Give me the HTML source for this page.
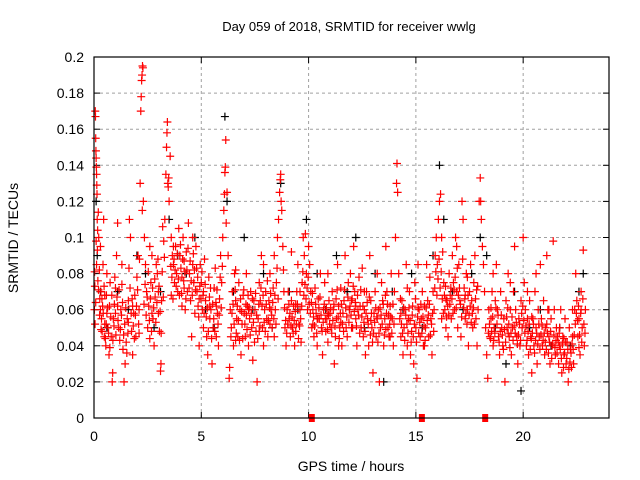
<!DOCTYPE html>
<html><head><meta charset="utf-8"><style>
body{margin:0;background:#fff;}
svg{display:block;font-family:"Liberation Sans",sans-serif;}
</style></head><body>
<svg id="chart" width="640" height="480">
<rect width="640" height="480" fill="#fff"/>
<g id="grid"></g>
<g id="ticks"></g>
<g id="black"></g>
<g id="red"></g>
<rect x="94" y="57" width="515" height="361" fill="none" stroke="#000" stroke-width="1.2"/>
<text x="349" y="31" text-anchor="middle" font-size="13">Day 059 of 2018, SRMTID for receiver wwlg</text>
<text x="351" y="471" text-anchor="middle" font-size="14">GPS time / hours</text>
<text transform="translate(18,238) rotate(-90)" text-anchor="middle" font-size="14">SRMTID / TECUs</text>
</svg>
<script>
const xTicks=[0,5,10,15,20];
const yTicks=[0,0.02,0.04,0.06,0.08,0.1,0.12,0.14,0.16,0.18,0.2];
const yTickLabels=["0","0.02","0.04","0.06","0.08","0.1","0.12","0.14","0.16","0.18","0.2"];
const zeroPoints=[[10.15,0],[15.28,0],[18.23,0]];
const blackPoints=[[0.1,0.12],[0.15,0.09],[0.3,0.07],[0.6,0.05],[1.1,0.07],[1.6,0.06],[2.0,0.09],[2.4,0.08],[2.8,0.05],[3.1,0.07],[3.5,0.11],[3.9,0.09],[4.3,0.08],[4.7,0.1],[5.2,0.06],[5.6,0.05],[6.1,0.167],[6.2,0.12],[6.5,0.07],[7.0,0.1],[7.4,0.06],[7.9,0.08],[8.3,0.05],[8.7,0.13],[9.1,0.07],[9.5,0.06],[9.9,0.11],[10.4,0.08],[10.8,0.06],[11.3,0.09],[11.8,0.07],[12.2,0.1],[12.6,0.05],[13.1,0.08],[13.5,0.02],[13.9,0.07],[14.4,0.06],[14.8,0.08],[15.3,0.05],[15.8,0.09],[16.1,0.14],[16.3,0.11],[16.7,0.07],[17.2,0.06],[17.6,0.08],[18.0,0.1],[18.3,0.09],[18.7,0.05],[19.2,0.03],[19.6,0.07],[19.9,0.015],[20.3,0.05],[20.8,0.06],[21.3,0.04],[21.7,0.05],[22.2,0.04],[22.6,0.07],[22.8,0.08]];
const redPoints=[
[0.02,0.06],[0.04,0.073],[0.05,0.052],[0.06,0.17],[0.07,0.167],[0.08,0.155],[0.09,0.148],[0.1,0.144],[0.11,0.139],[0.12,0.135],[0.13,0.129],[0.14,0.124],[0.1,0.098],[0.12,0.085],[0.15,0.11],[0.17,0.104],[0.18,0.076],[0.2,0.114],[0.22,0.1],[0.25,0.082],[0.27,0.066],[0.3,0.06],[0.32,0.07],[0.35,0.055],[0.38,0.048],[0.4,0.062],[0.42,0.085],[0.45,0.11],[0.48,0.045],[0.5,0.052],[0.55,0.04],[0.58,0.068],[0.6,0.058],[0.65,0.05],[0.7,0.035],[0.72,0.062],[0.75,0.075],[0.8,0.045],[0.85,0.02],[0.87,0.025],[0.9,0.055],[0.95,0.063],[1.0,0.072],[1.05,0.09],[1.1,0.108],[1.15,0.05],[1.2,0.043],[1.25,0.06],[1.3,0.074],[1.35,0.038],[1.4,0.02],[1.45,0.03],[1.5,0.042],[1.55,0.055],[1.6,0.065],[1.65,0.11],[1.7,0.1],[1.75,0.048],[1.8,0.035],[1.85,0.058],[1.9,0.068],[1.95,0.045],[2.0,0.078],[2.05,0.09],[2.1,0.06],[2.15,0.13],[2.18,0.17],[2.2,0.178],[2.22,0.187],[2.24,0.19],[2.26,0.195],[2.28,0.194],[2.25,0.115],[2.3,0.12],[2.35,0.1],[2.4,0.085],[2.45,0.07],[2.5,0.05],[2.55,0.062],[2.6,0.044],[2.65,0.075],[2.7,0.09],[2.75,0.055],[2.8,0.04],[2.85,0.067],[2.9,0.085],[2.95,0.08],[3.0,0.058],[3.05,0.048],[3.1,0.026],[3.12,0.03],[3.15,0.065],[3.2,0.106],[3.25,0.098],[3.3,0.11],[3.35,0.135],[3.38,0.15],[3.4,0.158],[3.42,0.164],[3.44,0.13],[3.46,0.128],[3.48,0.133],[3.5,0.12],[3.55,0.145],[3.6,0.1],[3.65,0.09],[3.7,0.085],[3.75,0.075],[3.8,0.095],[3.85,0.08],[3.9,0.07],[3.95,0.105],[4.0,0.09],[4.05,0.083],[4.1,0.078],[4.15,0.1],[4.2,0.087],[4.25,0.06],[4.3,0.092],[4.35,0.07],[4.4,0.108],[4.45,0.08],[4.5,0.065],[4.55,0.045],[4.6,0.085],[4.65,0.075],[4.7,0.058],[4.75,0.095],[4.8,0.07],[4.85,0.062],[4.9,0.04],[4.95,0.085],[5.0,0.075],[5.05,0.06],[5.1,0.05],[5.15,0.088],[5.2,0.065],[5.25,0.045],[5.3,0.035],[5.35,0.078],[5.4,0.055],[5.45,0.06],[5.5,0.03],[5.55,0.05],[5.6,0.072],[5.65,0.083],[5.7,0.045],[5.75,0.058],[5.8,0.04],[5.85,0.066],[5.9,0.09],[5.95,0.075],[6.0,0.1],[6.05,0.115],[6.08,0.124],[6.1,0.136],[6.12,0.139],[6.14,0.154],[6.16,0.108],[6.2,0.125],[6.25,0.09],[6.3,0.022],[6.32,0.028],[6.35,0.06],[6.4,0.05],[6.45,0.07],[6.5,0.04],[6.55,0.08],[6.6,0.065],[6.65,0.055],[6.7,0.045],[6.75,0.075],[6.8,0.06],[6.85,0.035],[6.9,0.052],[6.95,0.068],[7.0,0.058],[7.05,0.045],[7.1,0.08],[7.15,0.062],[7.2,0.04],[7.25,0.055],[7.3,0.07],[7.35,0.05],[7.4,0.032],[7.45,0.065],[7.5,0.06],[7.55,0.048],[7.6,0.02],[7.65,0.055],[7.7,0.075],[7.75,0.065],[7.8,0.09],[7.85,0.05],[7.9,0.04],[7.95,0.06],[8.0,0.07],[8.05,0.055],[8.1,0.045],[8.15,0.065],[8.2,0.08],[8.25,0.06],[8.3,0.05],[8.35,0.072],[8.4,0.09],[8.45,0.06],[8.5,0.075],[8.55,0.1],[8.6,0.11],[8.65,0.125],[8.68,0.132],[8.7,0.135],[8.72,0.12],[8.75,0.115],[8.8,0.095],[8.85,0.07],[8.9,0.05],[8.95,0.04],[9.0,0.06],[9.05,0.07],[9.1,0.055],[9.15,0.045],[9.2,0.065],[9.25,0.05],[9.3,0.062],[9.35,0.04],[9.4,0.048],[9.45,0.07],[9.5,0.085],[9.55,0.052],[9.6,0.06],[9.65,0.042],[9.7,0.075],[9.75,0.1],[9.8,0.09],[9.85,0.102],[9.9,0.08],[9.95,0.06],[10.0,0.095],[10.05,0.085],[10.1,0.07],[10.15,0.05],[10.2,0.06],[10.25,0.045],[10.3,0.072],[10.35,0.058],[10.4,0.04],[10.45,0.066],[10.5,0.055],[10.55,0.08],[10.6,0.05],[10.65,0.035],[10.7,0.06],[10.75,0.075],[10.8,0.048],[10.85,0.055],[10.9,0.042],[10.95,0.065],[11.0,0.058],[11.05,0.05],[11.1,0.07],[11.15,0.06],[11.2,0.03],[11.25,0.045],[11.3,0.055],[11.35,0.085],[11.4,0.062],[11.45,0.05],[11.5,0.072],[11.55,0.04],[11.6,0.058],[11.65,0.065],[11.7,0.09],[11.75,0.05],[11.8,0.045],[11.85,0.075],[11.9,0.06],[11.95,0.08],[12.0,0.065],[12.05,0.05],[12.1,0.095],[12.15,0.07],[12.2,0.055],[12.25,0.04],[12.3,0.06],[12.35,0.078],[12.4,0.062],[12.45,0.05],[12.5,0.083],[12.55,0.045],[12.6,0.06],[12.65,0.035],[12.7,0.07],[12.75,0.055],[12.8,0.04],[12.85,0.09],[12.9,0.065],[12.95,0.05],[13.0,0.025],[13.05,0.058],[13.1,0.07],[13.15,0.045],[13.2,0.08],[13.25,0.06],[13.3,0.02],[13.35,0.05],[13.4,0.075],[13.45,0.065],[13.5,0.04],[13.55,0.055],[13.6,0.095],[13.65,0.07],[13.7,0.05],[13.75,0.045],[13.8,0.062],[13.85,0.08],[13.9,0.055],[13.95,0.04],[14.0,0.07],[14.05,0.1],[14.1,0.13],[14.12,0.141],[14.15,0.125],[14.2,0.08],[14.25,0.055],[14.3,0.045],[14.35,0.065],[14.4,0.035],[14.45,0.05],[14.5,0.06],[14.55,0.085],[14.6,0.04],[14.65,0.055],[14.7,0.07],[14.75,0.035],[14.8,0.048],[14.85,0.062],[14.9,0.03],[14.95,0.075],[15.0,0.05],[15.05,0.022],[15.1,0.085],[15.15,0.06],[15.2,0.045],[15.25,0.055],[15.3,0.07],[15.35,0.04],[15.4,0.062],[15.45,0.05],[15.5,0.085],[15.55,0.065],[15.6,0.045],[15.65,0.078],[15.7,0.055],[15.75,0.035],[15.8,0.07],[15.85,0.06],[15.9,0.09],[15.95,0.1],[16.0,0.085],[16.05,0.11],[16.1,0.12],[16.15,0.124],[16.2,0.1],[16.25,0.092],[16.3,0.075],[16.35,0.06],[16.4,0.05],[16.45,0.065],[16.5,0.045],[16.55,0.08],[16.6,0.068],[16.65,0.055],[16.7,0.09],[16.75,0.075],[16.8,0.06],[16.85,0.1],[16.9,0.07],[16.95,0.05],[17.0,0.085],[17.05,0.065],[17.1,0.045],[17.15,0.12],[17.2,0.11],[17.25,0.072],[17.3,0.055],[17.35,0.08],[17.4,0.06],[17.45,0.04],[17.5,0.07],[17.55,0.085],[17.6,0.065],[17.65,0.05],[17.7,0.075],[17.75,0.09],[17.8,0.055],[17.85,0.04],[17.9,0.06],[17.95,0.12],[18.0,0.133],[18.02,0.12],[18.05,0.11],[18.1,0.095],[18.15,0.085],[18.2,0.07],[18.25,0.05],[18.3,0.035],[18.35,0.022],[18.4,0.06],[18.45,0.045],[18.5,0.055],[18.55,0.07],[18.6,0.04],[18.65,0.05],[18.7,0.065],[18.75,0.085],[18.8,0.06],[18.85,0.045],[18.9,0.035],[18.95,0.07],[19.0,0.05],[19.05,0.04],[19.1,0.055],[19.15,0.02],[19.2,0.065],[19.25,0.05],[19.3,0.08],[19.35,0.045],[19.4,0.06],[19.45,0.035],[19.5,0.05],[19.55,0.07],[19.6,0.095],[19.65,0.06],[19.7,0.045],[19.75,0.03],[19.8,0.055],[19.85,0.04],[19.9,0.065],[19.95,0.05],[20.0,0.1],[20.05,0.075],[20.1,0.06],[20.15,0.04],[20.2,0.055],[20.25,0.035],[20.3,0.065],[20.35,0.045],[20.4,0.025],[20.45,0.055],[20.5,0.04],[20.55,0.07],[20.6,0.05],[20.65,0.03],[20.7,0.06],[20.75,0.045],[20.8,0.085],[20.85,0.055],[20.9,0.04],[20.95,0.065],[21.0,0.035],[21.05,0.05],[21.1,0.09],[21.15,0.06],[21.2,0.045],[21.25,0.03],[21.3,0.055],[21.35,0.04],[21.4,0.098],[21.45,0.06],[21.5,0.035],[21.55,0.05],[21.6,0.045],[21.65,0.03],[21.7,0.04],[21.75,0.06],[21.8,0.025],[21.85,0.045],[21.9,0.035],[21.95,0.055],[22.0,0.03],[22.05,0.042],[22.1,0.02],[22.15,0.05],[22.2,0.038],[22.25,0.028],[22.3,0.045],[22.35,0.03],[22.4,0.06],[22.45,0.08],[22.5,0.065],[22.55,0.045],[22.6,0.055],[22.65,0.035],[22.7,0.07],[22.75,0.05],[22.8,0.093],[22.85,0.04],[22.9,0.06],
[0.3,0.095],[0.6,0.08],[1.0,0.058],[1.3,0.085],[1.8,0.062],[2.6,0.095],[3.0,0.07],[3.7,0.095],[4.2,0.072],[4.6,0.1],[5.1,0.07],[5.7,0.062],[6.6,0.082],[7.2,0.06],[7.9,0.085],[8.4,0.045],[9.2,0.092],[9.6,0.07],[10.4,0.055],[10.9,0.08],[11.4,0.04],[12.0,0.05],[12.6,0.07],[13.2,0.055],[13.8,0.045],[14.6,0.072],[15.4,0.04],[16.2,0.055],[16.9,0.095],[17.4,0.078],[18.6,0.08],[19.4,0.075],[20.2,0.07],[20.6,0.08],[21.2,0.06],[21.7,0.05],[22.3,0.06],[22.7,0.06]
];
const redPointsExtra=[
[0.03,0.081],[0.08,0.064],[0.16,0.093],[0.21,0.071],[0.26,0.057],[0.33,0.049],[0.37,0.066],[0.43,0.058],[0.47,0.073],[0.53,0.044],[0.57,0.052],[0.63,0.061],[0.68,0.047],[0.74,0.039],[0.78,0.056],[0.83,0.068],[0.88,0.043],[0.93,0.051],[0.97,0.078],[1.02,0.046],[1.07,0.067],[1.12,0.054],[1.17,0.071],[1.23,0.049],[1.28,0.057],[1.33,0.064],[1.38,0.046],[1.43,0.052],[1.48,0.061],[1.53,0.036],[1.58,0.047],[1.63,0.083],[1.68,0.072],[1.73,0.058],[1.78,0.066],[1.83,0.051],[1.88,0.044],[1.93,0.057],[1.98,0.062],[2.03,0.071],[2.08,0.052],[2.12,0.088],[2.33,0.063],[2.38,0.074],[2.43,0.057],[2.48,0.067],[2.53,0.081],[2.58,0.054],[2.63,0.066],[2.68,0.048],[2.73,0.072],[2.78,0.061],[2.83,0.077],[2.88,0.053],[2.93,0.064],[2.98,0.088],[3.03,0.073],[3.08,0.059],[3.13,0.047],[3.18,0.081],[3.23,0.067],[3.28,0.089],[3.58,0.084],[3.63,0.078],[3.68,0.066],[3.73,0.088],[3.78,0.082],[3.83,0.073],[3.88,0.091],[3.93,0.077],[3.98,0.068],[4.03,0.096],[4.08,0.069],[4.13,0.088],[4.18,0.076],[4.23,0.081],[4.28,0.066],[4.33,0.082],[4.38,0.094],[4.43,0.072],[4.48,0.087],[4.53,0.076],[4.58,0.068],[4.63,0.091],[4.68,0.082],[4.73,0.071],[4.78,0.083],[4.83,0.078],[4.88,0.056],[4.93,0.073],[4.98,0.066],[5.03,0.081],[5.08,0.068],[5.13,0.058],[5.18,0.074],[5.23,0.056],[5.28,0.061],[5.33,0.048],[5.38,0.067],[5.43,0.072],[5.48,0.044],[5.53,0.063],[5.58,0.055],[5.63,0.048],[5.68,0.064],[5.73,0.071],[5.78,0.052],[5.83,0.057],[5.88,0.078],[5.93,0.061],[5.98,0.084],[6.38,0.045],[6.43,0.058],[6.48,0.063],[6.53,0.052],[6.58,0.071],[6.63,0.047],[6.68,0.062],[6.73,0.054],[6.78,0.043],[6.83,0.066],[6.88,0.059],[6.93,0.044],[6.98,0.071],[7.03,0.052],[7.08,0.063],[7.13,0.049],[7.18,0.068],[7.23,0.061],[7.28,0.046],[7.33,0.058],[7.38,0.066],[7.43,0.053],[7.48,0.042],[7.53,0.069],[7.58,0.057],[7.63,0.044],[7.68,0.063],[7.73,0.051],[7.78,0.072],[7.83,0.062],[7.88,0.068],[7.93,0.053],[7.98,0.048],[8.03,0.063],[8.08,0.076],[8.13,0.054],[8.18,0.061],[8.23,0.069],[8.28,0.057],[8.33,0.064],[8.38,0.055],[8.43,0.068],[8.48,0.052],[8.53,0.083],[8.58,0.066],[8.83,0.082],[8.88,0.061],[8.93,0.054],[8.98,0.047],[9.03,0.052],[9.08,0.063],[9.13,0.058],[9.18,0.051],[9.23,0.056],[9.28,0.047],[9.33,0.054],[9.38,0.059],[9.43,0.052],[9.48,0.063],[9.53,0.044],[9.58,0.051],[9.63,0.055],[9.68,0.062],[9.73,0.081],[9.78,0.068],[9.83,0.074],[9.88,0.066],[9.93,0.072],[9.98,0.078],[10.03,0.063],[10.08,0.058],[10.13,0.064],[10.18,0.069],[10.23,0.056],[10.28,0.051],[10.33,0.063],[10.38,0.047],[10.43,0.055],[10.48,0.061],[10.53,0.067],[10.58,0.057],[10.63,0.048],[10.68,0.053],[10.73,0.063],[10.78,0.055],[10.83,0.061],[10.88,0.049],[10.93,0.057],[10.98,0.052],[11.03,0.061],[11.08,0.047],[11.13,0.054],[11.18,0.063],[11.23,0.051],[11.28,0.066],[11.33,0.071],[11.38,0.056],[11.43,0.044],[11.48,0.058],[11.53,0.063],[11.58,0.052],[11.63,0.048],[11.68,0.071],[11.73,0.061],[11.78,0.056],[11.83,0.067],[11.88,0.053],[11.93,0.062],[11.98,0.057],[12.03,0.066],[12.08,0.073],[12.13,0.059],[12.18,0.064],[12.23,0.051],[12.28,0.068],[12.33,0.057],[12.38,0.047],[12.43,0.071],[12.48,0.056],[12.53,0.062],[12.58,0.053],[12.63,0.048],[12.68,0.058],[12.73,0.064],[12.78,0.052],[12.83,0.067],[12.88,0.046],[12.93,0.058],[12.98,0.042],[13.03,0.047],[13.08,0.053],[13.13,0.061],[13.18,0.056],[13.23,0.042],[13.28,0.047],[13.33,0.061],[13.38,0.057],[13.43,0.052],[13.48,0.063],[13.53,0.046],[13.58,0.068],[13.63,0.058],[13.68,0.063],[13.73,0.057],[13.78,0.052],[13.83,0.056],[13.88,0.047],[13.93,0.063],[13.98,0.052],[14.28,0.066],[14.33,0.052],[14.38,0.047],[14.43,0.061],[14.48,0.043],[14.53,0.057],[14.58,0.052],[14.63,0.047],[14.68,0.061],[14.73,0.054],[14.78,0.042],[14.83,0.057],[14.88,0.045],[14.93,0.052],[14.98,0.066],[15.03,0.042],[15.08,0.056],[15.13,0.047],[15.18,0.053],[15.23,0.063],[15.28,0.047],[15.33,0.056],[15.38,0.051],[15.43,0.043],[15.48,0.061],[15.53,0.054],[15.58,0.057],[15.63,0.063],[15.68,0.046],[15.73,0.052],[15.78,0.058],[15.83,0.048],[15.88,0.072],[15.93,0.081],[15.98,0.068],[16.03,0.077],[16.08,0.088],[16.13,0.072],[16.18,0.081],[16.23,0.066],[16.28,0.058],[16.33,0.068],[16.38,0.073],[16.43,0.056],[16.48,0.062],[16.53,0.057],[16.58,0.063],[16.63,0.072],[16.68,0.066],[16.73,0.058],[16.78,0.071],[16.83,0.078],[16.88,0.061],[16.93,0.083],[16.98,0.068],[17.03,0.072],[17.08,0.063],[17.13,0.056],[17.18,0.088],[17.23,0.061],[17.28,0.066],[17.33,0.058],[17.38,0.052],[17.43,0.068],[17.48,0.057],[17.53,0.062],[17.58,0.053],[17.63,0.058],[17.68,0.061],[17.73,0.052],[17.78,0.066],[17.83,0.071],[17.88,0.073],[18.38,0.047],[18.43,0.052],[18.48,0.044],[18.53,0.048],[18.58,0.056],[18.63,0.043],[18.68,0.047],[18.73,0.061],[18.78,0.052],[18.83,0.057],[18.88,0.042],[18.93,0.048],[18.98,0.057],[19.03,0.046],[19.08,0.038],[19.13,0.049],[19.18,0.042],[19.23,0.056],[19.28,0.061],[19.33,0.052],[19.38,0.039],[19.43,0.047],[19.48,0.056],[19.53,0.043],[19.58,0.051],[19.63,0.047],[19.68,0.053],[19.73,0.041],[19.78,0.046],[19.83,0.052],[19.88,0.043],[19.93,0.058],[19.98,0.062],[20.03,0.054],[20.08,0.047],[20.13,0.051],[20.18,0.043],[20.23,0.048],[20.28,0.052],[20.33,0.038],[20.38,0.044],[20.43,0.047],[20.48,0.052],[20.53,0.036],[20.58,0.043],[20.63,0.047],[20.68,0.041],[20.73,0.052],[20.78,0.038],[20.83,0.046],[20.88,0.051],[20.93,0.043],[20.98,0.047],[21.03,0.042],[21.08,0.038],[21.13,0.047],[21.18,0.036],[21.23,0.042],[21.28,0.048],[21.33,0.033],[21.38,0.041],[21.43,0.046],[21.48,0.039],[21.53,0.043],[21.58,0.036],[21.63,0.042],[21.68,0.047],[21.73,0.038],[21.78,0.033],[21.83,0.041],[21.88,0.028],[21.93,0.036],[21.98,0.042],[22.03,0.033],[22.08,0.038],[22.13,0.027],[22.18,0.031],[22.23,0.036],[22.28,0.041],[22.33,0.038],[22.38,0.046],[22.43,0.052],[22.48,0.058],[22.53,0.054],[22.58,0.062],[22.63,0.046],[22.68,0.058],[22.73,0.042],[22.78,0.066],[22.83,0.052],[22.88,0.047],
[0.5,0.068],[1.1,0.062],[1.6,0.053],[2.1,0.047],[2.7,0.058],[3.6,0.068],[4.1,0.062],[4.9,0.066],[5.4,0.062],[6.6,0.043],[7.1,0.057],[7.7,0.048],[8.2,0.052],[9.4,0.063],[10.2,0.052],[10.9,0.058],[11.5,0.053],[12.2,0.062],[12.9,0.054],[13.6,0.049],[14.3,0.058],[15.1,0.061],[16.4,0.066],[17.3,0.068],[18.5,0.061],[19.3,0.047],[20.4,0.056],[21.1,0.052],[21.9,0.044],[22.6,0.039]
];
const X0=94,X1=609,Y0=418,Y1=57,XMAX=24,YMAX=0.2;
function sx(h){return X0+(X1-X0)*h/XMAX;}
function sy(v){return Y0-(Y0-Y1)*v/YMAX;}
const NS="http://www.w3.org/2000/svg";
function mk(tag,attrs,parent){const e=document.createElementNS(NS,tag);for(const k in attrs)e.setAttribute(k,attrs[k]);parent.appendChild(e);return e;}
const grid=document.getElementById('grid'),ticks=document.getElementById('ticks');
xTicks.forEach(t=>{const x=sx(t);
 if(t>0){const g=mk('line',{x1:x,x2:x,y1:Y0,y2:Y1,stroke:'#a0a0a0','stroke-dasharray':'3,3'},grid);
 
 }
 mk('line',{x1:x,x2:x,y1:Y0,y2:Y0-6,stroke:'#000'},ticks);mk('line',{x1:x,x2:x,y1:Y1,y2:Y1+6,stroke:'#000'},ticks);
 const tx=mk('text',{x:x,y:Y0+23,'text-anchor':'middle','font-size':'14'},ticks);tx.textContent=t;
 
 });
yTicks.forEach((t,i)=>{const y=sy(t);
 if(t>0&&t<YMAX){const g=mk('line',{x1:X0,x2:X1,y1:y,y2:y,stroke:'#a0a0a0','stroke-dasharray':'3,3'},grid);
 
 }
 mk('line',{x1:X0,x2:X0+6,y1:y,y2:y,stroke:'#000'},ticks);mk('line',{x1:X1,x2:X1-6,y1:y,y2:y,stroke:'#000'},ticks);
 const tx=mk('text',{x:X0-10,y:y+5,'text-anchor':'end','font-size':'14'},ticks);tx.textContent=yTickLabels[i];
 
 });
function plus(g,h,v,col,name){const x=sx(h),y=sy(v);
 const p=mk('path',{d:`M${x-4},${y}H${x+4}M${x},${y-4}V${y+4}`,stroke:col,'stroke-width':'1.2',fill:'none'},g);
 
 }
const bg=document.getElementById('black'),rg=document.getElementById('red');
blackPoints.forEach(p=>plus(bg,p[0],p[1],'#000','black-point'));
redPoints.forEach(p=>plus(rg,p[0],p[1],'#f00','red-point'));
redPointsExtra.forEach(p=>plus(rg,p[0],p[1],'#f00','red-point'));
zeroPoints.forEach(p=>{const r=mk('rect',{x:sx(p[0])-3,y:sy(p[1])-4,width:6,height:8,fill:'#ff0000'},rg);
 
 });
</script>
</body></html>
